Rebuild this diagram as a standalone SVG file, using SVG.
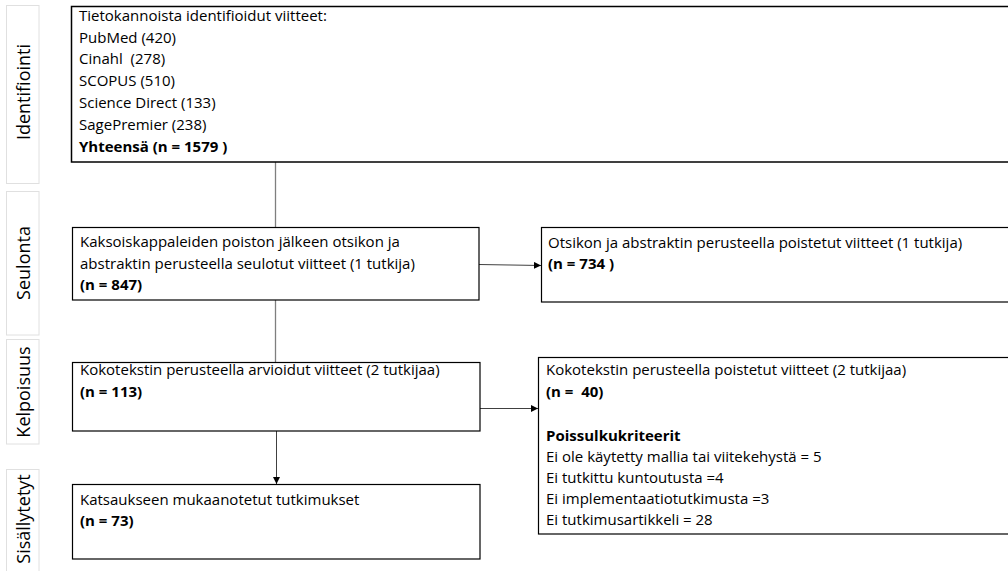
<svg xmlns="http://www.w3.org/2000/svg" width="1008" height="571" viewBox="0 0 1008 571">
<style>
  text { font-family: "Open Sans", "Liberation Sans", Arial, sans-serif; font-size: 15px; fill: #000; white-space: pre; }
  .b { font-weight: bold; }
  .box { fill: #fff; stroke: #000; stroke-width: 1.2; }
  .lbl { fill: #fff; stroke: #e0e0e0; stroke-width: 1; }
  .lt { font-size: 18px; text-anchor: middle; }
  .gl { stroke: #7f7f7f; stroke-width: 1.3; fill: none; }
  .al { stroke: #404040; stroke-width: 1; fill: none; }
</style>
<defs>
  <marker id="ah" viewBox="0 0 10 10" refX="10" refY="5" markerWidth="7" markerHeight="7" markerUnits="userSpaceOnUse" orient="auto">
    <path d="M0,0 L10,5 L0,10 z" fill="#000"/>
  </marker>
</defs>
<rect width="1008" height="571" fill="#fff"/>

<g id="phase-identifiointi">
  <rect class="lbl" x="6.5" y="5.5" width="32.5" height="178"/>
  <text class="lt" transform="translate(29.5,92) rotate(-90)">Identifiointi</text>
</g>
<g id="phase-seulonta">
  <rect class="lbl" x="6.5" y="191.5" width="32.5" height="143.5"/>
  <text class="lt" transform="translate(29.5,263) rotate(-90)">Seulonta</text>
</g>
<g id="phase-kelpoisuus">
  <rect class="lbl" x="6.5" y="339.5" width="32.5" height="104.5"/>
  <text class="lt" transform="translate(29.5,392) rotate(-90)">Kelpoisuus</text>
</g>
<g id="phase-sisallytetyt">
  <rect class="lbl" x="6.5" y="469.5" width="32.5" height="110"/>
  <text class="lt" transform="translate(29.5,519) rotate(-90)">Sisällytetyt</text>
</g>

<g id="connectors">
  <line class="gl" x1="275.5" y1="162" x2="275.5" y2="227"/>
  <line class="gl" x1="275.5" y1="300" x2="275.5" y2="362"/>
  <line class="al" x1="479" y1="264.5" x2="541" y2="265.5" marker-end="url(#ah)"/>
  <line class="al" x1="480" y1="408.5" x2="538" y2="408.5" marker-end="url(#ah)"/>
  <line class="al" x1="276.5" y1="431" x2="276.5" y2="484" marker-end="url(#ah)"/>
</g>

<g id="node-identified">
  <rect class="box" x="71.5" y="6.5" width="950" height="155.5" style="stroke-width:1.5"/>
  <text x="79" y="21">Tietokannoista identifioidut viitteet:</text>
  <text x="79" y="43">PubMed (420)</text>
  <text x="79" y="64">Cinahl  (278)</text>
  <text x="79" y="86">SCOPUS (510)</text>
  <text x="79" y="108">Science Direct (133)</text>
  <text x="79" y="130">SagePremier (238)</text>
  <text x="79" y="152" class="b">Yhteensä (n = 1579 )</text>
</g>

<g id="node-screened">
  <rect class="box" x="72.5" y="227.5" width="406.5" height="72.5"/>
  <text x="80" y="247">Kaksoiskappaleiden poiston jälkeen otsikon ja</text>
  <text x="80" y="269">abstraktin perusteella seulotut viitteet (1 tutkija)</text>
  <text x="80" y="290" class="b">(n = 847)</text>
</g>

<g id="node-excluded-abstract">
  <rect class="box" x="541.5" y="227.5" width="480" height="74.5"/>
  <text x="548" y="248">Otsikon ja abstraktin perusteella poistetut viitteet (1 tutkija)</text>
  <text x="548" y="269" class="b">(n = 734 )</text>
</g>

<g id="node-fulltext">
  <rect class="box" x="72.5" y="362.5" width="407.5" height="68.5"/>
  <text x="80" y="375">Kokotekstin perusteella arvioidut viitteet (2 tutkijaa)</text>
  <text x="80" y="397" class="b">(n = 113)</text>
</g>

<g id="node-excluded-fulltext">
  <rect class="box" x="538.5" y="357.5" width="480" height="176.5"/>
  <text x="546" y="375">Kokotekstin perusteella poistetut viitteet (2 tutkijaa)</text>
  <text x="546" y="397" class="b">(n =  40)</text>
  <text x="546" y="441" class="b">Poissulkukriteerit</text>
  <text x="546" y="462">Ei ole käytetty mallia tai viitekehystä = 5</text>
  <text x="546" y="483">Ei tutkittu kuntoutusta =4</text>
  <text x="546" y="504">Ei implementaatiotutkimusta =3</text>
  <text x="546" y="525">Ei tutkimusartikkeli = 28</text>
</g>

<g id="node-included">
  <rect class="box" x="72.5" y="484.5" width="407.5" height="74.5"/>
  <text x="80" y="505">Katsaukseen mukaanotetut tutkimukset</text>
  <text x="80" y="526" class="b">(n = 73)</text>
</g>
</svg>
